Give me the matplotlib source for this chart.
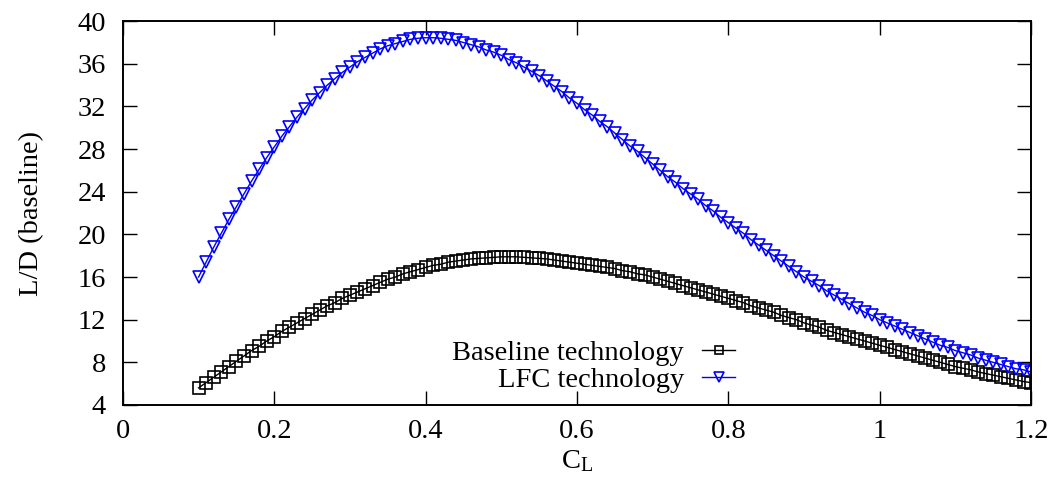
import numpy as np
import matplotlib
matplotlib.use('Agg')
import matplotlib.pyplot as plt

plt.rcParams['font.family'] = ['Liberation Serif', 'DejaVu Serif']
plt.rcParams['mathtext.fontset'] = 'custom'
plt.rcParams['mathtext.rm'] = 'Liberation Serif'
plt.rcParams['mathtext.it'] = 'Liberation Serif'

# 양력계수 CL (0.10 ~ 1.20, 0.01 간격)
cl = np.round(np.arange(0.10, 1.2001, 0.01), 2)

# 기존 기술 L/D
ld_baseline = [
    5.6, 6.1, 6.6, 7.1, 7.6, 8.1, 8.6, 9.1, 9.5, 10.0,
    10.4, 10.9, 11.3, 11.7, 12.1, 12.5, 12.9, 13.3, 13.6, 14.0,
    14.3, 14.6, 14.9, 15.2, 15.5, 15.8, 16.0, 16.3, 16.5, 16.7,
    16.9, 17.1, 17.2, 17.4, 17.5, 17.6, 17.7, 17.75, 17.8, 17.85,
    17.9, 17.9, 17.9, 17.85, 17.8, 17.75, 17.7, 17.6, 17.5, 17.4,
    17.3, 17.2, 17.1, 17.0, 16.9, 16.8, 16.6, 16.5, 16.3, 16.2,
    16.0, 15.8, 15.6, 15.4, 15.2, 15.0, 14.8, 14.6, 14.4, 14.2,
    14.0, 13.8, 13.6, 13.3, 13.1, 12.9, 12.7, 12.4, 12.2, 12.0,
    11.7, 11.5, 11.3, 11.0, 10.8, 10.6, 10.4, 10.2, 10.0, 9.8,
    9.6, 9.4, 9.2, 9.0, 8.8, 8.6, 8.4, 8.2, 8.0, 7.8,
    7.6, 7.45, 7.3, 7.1, 6.95, 6.8, 6.65, 6.5, 6.35, 6.2,
    6.1,
]

# 층류제어(LFC) 기술 L/D
ld_lfc = [
    16.0, 17.4, 18.8, 20.1, 21.4, 22.6, 23.8, 25.0, 26.1, 27.2,
    28.2, 29.2, 30.1, 31.0, 31.8, 32.6, 33.3, 34.0, 34.6, 35.2,
    35.7, 36.2, 36.6, 37.0, 37.4, 37.7, 37.9, 38.1, 38.3, 38.4,
    38.45, 38.45, 38.4, 38.3, 38.2, 38.0, 37.8, 37.6, 37.3, 37.1,
    36.8, 36.4, 36.1, 35.7, 35.3, 34.9, 34.4, 33.9, 33.4, 32.8,
    32.3, 31.7, 31.2, 30.6, 30.1, 29.5, 28.9, 28.3, 27.8, 27.2,
    26.6, 26.0, 25.4, 24.9, 24.3, 23.8, 23.3, 22.7, 22.2, 21.6,
    21.1, 20.6, 20.1, 19.5, 19.0, 18.5, 18.0, 17.5, 17.0, 16.5,
    16.0, 15.6, 15.2, 14.7, 14.3, 13.9, 13.5, 13.1, 12.7, 12.4,
    12.0, 11.7, 11.4, 11.1, 10.8, 10.5, 10.2, 9.9, 9.6, 9.4,
    9.1, 8.9, 8.7, 8.4, 8.2, 8.0, 7.8, 7.6, 7.4, 7.3,
    7.1,
]

x_ticks = [0, 0.2, 0.4, 0.6, 0.8, 1.0, 1.2]
x_tick_labels = ['0', '0.2', '0.4', '0.6', '0.8', '1', '1.2']
y_ticks = [4, 8, 12, 16, 20, 24, 28, 32, 36, 40]

fs = 20.5

fig = plt.figure(figsize=(10.5, 4.93), dpi=100)
ax = fig.add_axes([0.117, 0.1785, 0.865, 0.7785])

ax.plot(cl, ld_baseline, color='black', lw=1.0, marker='s', ms=8,
        mfc='none', mec='black', mew=1.2, label='Baseline technology')
ax.plot(cl, ld_lfc, color='#0000ff', lw=1.0, marker='v', ms=8.5,
        mfc='none', mec='#0000ff', mew=1.2, label='LFC technology')

ax.set_xlim(0, 1.2)
ax.set_ylim(4, 40)
ax.set_xticks(x_ticks)
ax.set_xticklabels(x_tick_labels)
ax.set_yticks(y_ticks)
ax.tick_params(direction='in', top=True, right=True, length=10, width=1.0,
               labelsize=fs)
ax.tick_params(axis='x', pad=10)
ax.tick_params(axis='y', pad=12)
for s in ax.spines.values():
    s.set_linewidth(1.4)

ax.set_xlabel(r'$\mathregular{C_L}$', fontsize=fs, labelpad=3)
ax.set_ylabel('L/D (baseline)', fontsize=fs, labelpad=24)

ax.legend(loc='upper right', bbox_to_anchor=(0.674, 0.17), frameon=False,
          markerfirst=False, fontsize=fs, handlelength=1.15, handletextpad=0.65,
          labelspacing=0.05, borderpad=0, borderaxespad=0, markerscale=0.8)

fig.savefig('out.png', dpi=100)
